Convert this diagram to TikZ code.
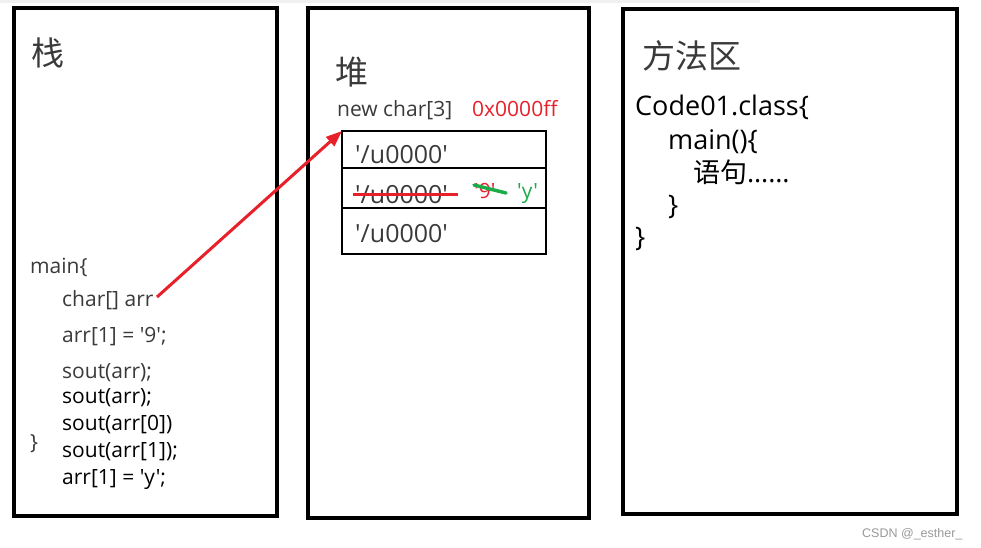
\documentclass[tikz,border=0pt]{standalone}
\usepackage{fontspec}
\setmainfont{Open Sans}[Ligatures=TeXOff]
\newfontfamily\cjk{Noto Sans CJK SC}
\newfontfamily\wmfont{Liberation Sans}
\usetikzlibrary{arrows.meta}
\definecolor{myred}{HTML}{E8202A}
\definecolor{mygreen}{HTML}{1DAA48}
\definecolor{txtgrey}{HTML}{3A3A3A}
\begin{document}
\begin{tikzpicture}[x=1pt,y=-1pt,
  panel/.style={draw=black,line width=4.5pt,anchor=north west,inner sep=0,outer sep=0},
  cell/.style={draw=black,line width=2.5pt,anchor=north west,inner sep=0,outer sep=0,minimum width=204pt},
  txt/.style={inner sep=0,anchor=base west,font=\fontsize{21}{21}\selectfont},
  big/.style={inner sep=0,anchor=base west,font=\fontsize{27}{27}\selectfont},
  celltxt/.style={inner sep=0,anchor=base west,font=\fontsize{25}{25}\selectfont},
  head/.style={inner sep=0,anchor=center,text=txtgrey,font=\cjk\fontsize{33}{33}\selectfont},
  strike/.style={line width=3pt}]
\useasboundingbox (0,0) rectangle (981,547);
\fill[black!6] (0,0) rectangle (760,3);
% panels
\node[panel,minimum width=263pt,minimum height=508pt] (stack) at (14,8) {};
\node[panel,minimum width=281pt,minimum height=510pt] (heap) at (308,8) {};
\node[panel,minimum width=334pt,minimum height=505pt] (method) at (623,9) {};
% headings
\node[head] (hstack) at (48,53) {栈};
\node[head] (hheap) at (352,72) {堆};
\node[head] (hmethod) at (692,56) {方法区};
% stack code
\node[txt,text=txtgrey] (s1) at (30,273) {main\{};
\node[txt,text=txtgrey] (s2) at (62,306) {char[] arr};
\node[txt,text=txtgrey] (s3) at (62,342) {arr[1] = '9';};
\node[txt,text=txtgrey] (s4) at (62,378) {sout(arr);};
\node[txt] (s5) at (62,403) {sout(arr);};
\node[txt] (s6) at (62,430) {sout(arr[0])};
\node[txt] (s7) at (62,457) {sout(arr[1]);};
\node[txt] (s8) at (62,484) {arr[1] = 'y';};
\node[txt,text=txtgrey] (s9) at (30,449) {\}};
\coordinate (src) at (157,297);
% heap
\node[txt,text=txtgrey] (newc) at (337,116) {new char[3]};
\node[txt,text=myred] (addr) at (472,116) {0x0000ff};
\node[cell,minimum height=37pt] (c1) at (342,131) {};
\node[cell,minimum height=40pt] (c2) at (342,168) {};
\node[cell,minimum height=46pt] (c3) at (342,208) {};
\node[celltxt,text=txtgrey] (v1) at (355,163) {'/u0000'};
\node[celltxt,text=txtgrey] (v2) at (355,203) {'/u0000'};
\node[celltxt,text=txtgrey] (v3) at (355,242) {'/u0000'};
\node[txt,text=myred] (nine) at (474,198) {'9'};
\node[txt,text=mygreen] (yy) at (517,198) {'y'};
\draw[myred,strike] (353,194) -- (458,194);
\draw[mygreen,line width=3.5pt,line cap=round] (474,185) -- (506,193);
% arrow
\draw[myred,line width=3pt,-{Triangle[length=16pt,width=12pt]}] (src) -- (c1.north west);
% method area
\node[big] (m1) at (635,115) {Code01.class\{};
\node[big] (m2) at (668,149) {main()\{};
\node[big] (m3) at (693,182) {{\cjk 语句}……};
\node[big] (m4) at (668,214) {\}};
\node[big] (m5) at (635,246) {\}};
% watermark
\node[inner sep=0,anchor=base west,text=black!40,font=\wmfont\fontsize{12.5}{12.5}\selectfont] (wm) at (862,537) {CSDN @\_esther\_};
\end{tikzpicture}
\end{document}
